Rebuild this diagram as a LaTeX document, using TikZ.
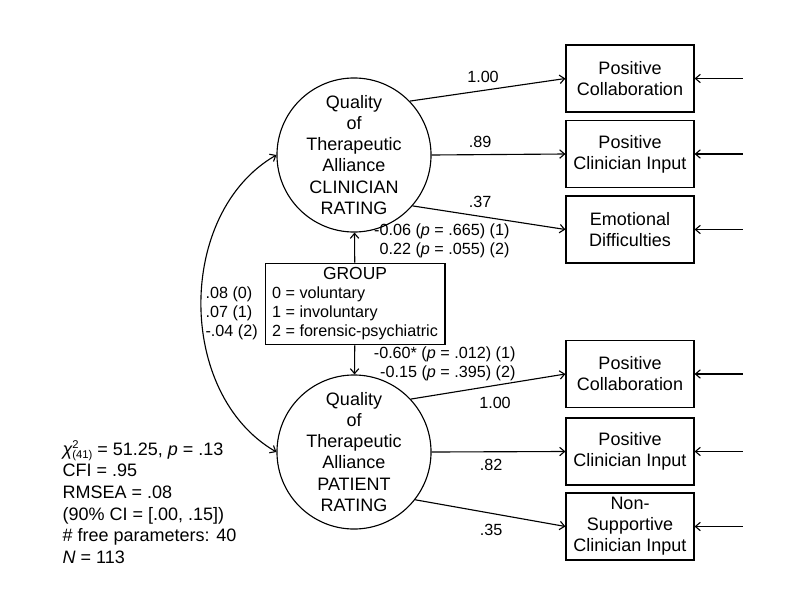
\documentclass[tikz,border=0pt]{standalone}
\usepackage{fontspec}
\setmainfont{Liberation Sans}
\usetikzlibrary{arrows.meta}
\begin{document}
\begin{tikzpicture}[x=0.025cm,y=-0.025cm,>={Straight Barb[length=3.5pt,width=6pt]},line width=0.8pt,
    latent/.style={draw,circle,minimum size=3.85cm,inner sep=0pt,align=center,
      font=\fontsize{12.8}{15}\selectfont},
    obs/.style={draw,rectangle,minimum width=3.2cm,minimum height=1.675cm,
      inner sep=1pt,align=center,font=\fontsize{12.8}{15}\selectfont},
    coef/.style={inner sep=0pt,font=\fontsize{11.5}{13.5}\selectfont}]
  \useasboundingbox (0,0) rectangle (800,611);
  % latent factors
  \node[latent] (clin) at (354,155) {Quality\\of\\Therapeutic\\Alliance\\CLINICIAN\\RATING};
  \node[latent] (pat) at (354,452) {Quality\\of\\Therapeutic\\Alliance\\PATIENT\\RATING};
  \node[draw,inner xsep=5pt,inner ysep=2pt,font=\fontsize{11.5}{13.5}\selectfont] (grp) at (355,304)
    {\begin{tabular}{@{}l@{}}\multicolumn{1}{@{}c@{}}{\fontsize{12.4}{13.5}\selectfont GROUP}\\
      0 = voluntary\\ 1 = involuntary\\ 2 = forensic-psychiatric\end{tabular}};
  % indicators
  \node[obs] (pc1) at (630,78.5) {Positive\\Collaboration};
  \node[obs] (pci1) at (630,154) {Positive\\Clinician Input};
  \node[obs] (emo) at (630,229.5) {Emotional\\Difficulties};
  \node[obs] (pc2) at (630,374) {Positive\\Collaboration};
  \node[obs] (pci2) at (630,451.5) {Positive\\Clinician Input};
  \node[obs] (nsc) at (630,526.5) {Non-\\Supportive\\Clinician Input};
  \foreach \b in {pc1,pci1,emo,pc2,pci2,nsc} {
    \coordinate (\b-err) at ([xshift=1.2cm]\b.east);
    \draw[->] (\b-err) -- (\b.east);
  }
  % loadings
  \draw[->] (clin.44) -- (pc1.west);
  \draw[->] (clin.east) -- (pci1.west);
  \draw[->] (clin.-41) -- (emo.west);
  \draw[->] (pat.43) -- (pc2.west);
  \draw[->] (pat.east) -- (pci2.west);
  \draw[->] (pat.-38) -- (nsc.west);
  \draw[->] (grp) -- (clin);
  \draw[->] (grp) -- (pat);
  \draw[<->] (clin.west) to[out=210,in=150] (pat.west);
  % coefficients
  \node[coef] (l1) at (483,77) {1.00};
  \node[coef] (l2) at (480,142) {.89};
  \node[coef] (l3) at (480,202) {.37};
  \node[coef] (l4) at (495,403) {1.00};
  \node[coef] (l5) at (491,465) {.82};
  \node[coef] (l6) at (491,530) {.35};
  \node[coef,anchor=east,align=right] (g1) at (510,241)
    {-0.06 (\textit{p} = .665) (1)\\0.22 (\textit{p} = .055) (2)};
  \node[coef,anchor=east,align=right] (g2) at (516,364)
    {-0.60* (\textit{p} = .012) (1)\\-0.15 (\textit{p} = .395) (2)};
  \node[coef,anchor=west,align=left] (cov) at (205,313) {.08 (0)\\.07 (1)\\-.04 (2)};
  % fit
  \node[anchor=west,align=left,inner sep=0pt,font=\fontsize{12.8}{15.4}\selectfont] (fit) at (62,502)
    {{\itshape χ}\rlap{\raisebox{5pt}{\fontsize{8}{9}\selectfont 2}}\raisebox{-2pt}{\fontsize{8}{9}\selectfont (41)} = 51.25, \textit{p} = .13\\
     CFI = .95\\ RMSEA = .08\\ (90\% CI = [.00, .15])\\ \# free parameters: 40\\ \textit{N} = 113};
\end{tikzpicture}
\end{document}
